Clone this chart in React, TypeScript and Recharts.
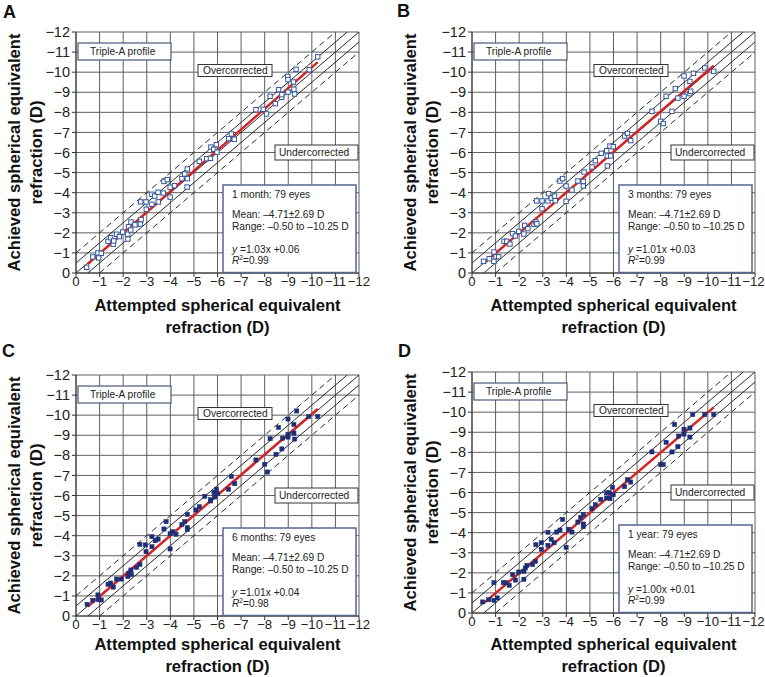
import React from "react";
import {
  ScatterChart,
  Scatter,
  XAxis,
  YAxis,
  CartesianGrid,
  ReferenceLine,
} from "recharts";

// attempted (x) vs achieved (y) spherical equivalent, dioptres
const oneMonth: [number, number][] = [
  [-0.45, -0.28], [-0.71, -0.8], [-0.96, -0.85], [-0.93, -1.0], [-1.07, -0.98],
  [-0.96, -0.75], [-1.36, -1.58], [-1.47, -1.76], [-1.58, -1.43], [-1.72, -1.93],
  [-1.84, -1.81], [-1.98, -2.04], [-2.19, -1.93], [-2.2, -1.69], [-2.23, -2.31],
  [-2.33, -2.54], [-2.32, -2.14], [-2.59, -2.42], [-2.73, -2.44], [-2.76, -2.66],
  [-2.74, -3.54], [-2.97, -3.54], [-2.98, -3.17], [-3.22, -3.42], [-3.22, -3.92],
  [-3.34, -3.83], [-3.48, -4.02], [-3.49, -3.54], [-3.7, -3.98], [-3.99, -3.78],
  [-3.73, -4.56], [-3.87, -4.65], [-3.99, -4.27], [-4.18, -4.35], [-4.49, -4.7],
  [-4.61, -4.93], [-4.72, -5.18], [-4.72, -4.7], [-4.71, -4.28], [-5.23, -5.56],
  [-5.54, -5.69], [-5.72, -6.27], [-5.7, -5.71], [-5.84, -6.16], [-5.95, -6.39],
  [-5.98, -6.02], [-6.47, -6.69], [-6.59, -6.92], [-6.71, -6.66], [-7.63, -8.13],
  [-7.94, -8.15], [-8.08, -7.92], [-8.23, -8.8], [-8.45, -8.43], [-8.59, -9.13],
  [-8.72, -8.75], [-8.73, -8.88], [-8.98, -9.79], [-8.99, -9.63], [-8.99, -9.01],
  [-9.22, -9.51], [-9.24, -9.15], [-9.27, -8.91], [-9.33, -10.14], [-9.89, -10.12],
  [-10.25, -10.76], [-2.5, -2.4], [-1.6, -1.6],
];

const threeMonths: [number, number][] = [
  [-0.49, -0.58], [-0.73, -0.71], [-0.93, -1.05], [-0.93, -0.58], [-1.02, -0.81],
  [-1.13, -0.81], [-1.36, -1.58], [-1.47, -1.58], [-1.61, -1.44], [-1.72, -1.96],
  [-1.84, -1.84], [-1.98, -2.07], [-2.23, -2.37], [-2.2, -1.94], [-2.37, -2.21],
  [-2.63, -2.42], [-2.71, -2.54], [-2.74, -3.59], [-2.97, -3.59], [-2.97, -3.2],
  [-3.22, -3.59], [-3.25, -3.95], [-3.36, -3.73], [-3.5, -3.83], [-3.53, -3.6],
  [-3.73, -4.58], [-3.84, -4.7], [-3.99, -4.33], [-3.99, -3.57], [-4.24, -4.13],
  [-4.49, -4.58], [-4.72, -4.56], [-4.75, -5.03], [-4.72, -4.33], [-5.09, -5.28],
  [-5.23, -5.59], [-5.48, -5.96], [-5.71, -6.09], [-5.74, -5.83], [-5.74, -5.33],
  [-5.85, -6.32], [-5.88, -5.83], [-5.99, -6.29], [-6.47, -6.82], [-6.59, -6.95],
  [-6.73, -6.59], [-7.63, -8.05], [-8.0, -7.55], [-8.11, -7.44], [-8.23, -8.8],
  [-8.48, -8.05], [-8.62, -9.18], [-8.73, -8.71], [-8.99, -9.81], [-8.99, -8.8],
  [-9.24, -9.54], [-9.24, -8.93], [-9.27, -9.05], [-9.39, -9.94], [-9.87, -10.21],
  [-10.25, -10.04], [-2.75, -2.45],
];

const sixMonths: [number, number][] = [
  [-0.47, -0.58], [-0.71, -0.78], [-0.93, -1.05], [-0.96, -0.81], [-1.07, -0.8],
  [-1.36, -1.58], [-1.47, -1.64], [-1.58, -1.44], [-1.72, -1.84], [-1.92, -1.84],
  [-2.2, -1.96], [-2.23, -2.12], [-2.33, -2.29], [-2.35, -2.07], [-2.57, -2.42],
  [-2.71, -2.57], [-2.71, -3.57], [-2.94, -3.54], [-2.97, -3.2], [-3.22, -3.45],
  [-3.22, -3.95], [-3.36, -3.75], [-3.48, -3.83], [-3.73, -4.33], [-3.82, -4.7],
  [-3.99, -3.34], [-3.99, -4.1], [-4.1, -4.2], [-4.24, -4.07], [-4.49, -4.56],
  [-4.61, -4.7], [-4.72, -5.06], [-4.72, -4.4], [-4.72, -4.3], [-5.09, -5.28],
  [-5.23, -5.44], [-5.46, -5.96], [-5.71, -5.79], [-5.71, -5.73], [-5.85, -6.16],
  [-5.88, -5.93], [-5.96, -6.31], [-5.99, -6.09], [-6.47, -6.31], [-6.59, -6.95],
  [-6.73, -6.59], [-7.63, -7.77], [-8.0, -7.55], [-8.11, -7.17], [-8.23, -8.83],
  [-8.48, -8.05], [-8.59, -9.39], [-8.73, -8.32], [-8.76, -8.85], [-8.99, -9.81],
  [-8.99, -9.05], [-8.99, -8.91], [-9.24, -9.54], [-9.27, -8.81], [-9.24, -9.11],
  [-9.36, -10.21], [-9.87, -9.93], [-10.25, -9.93],
];

const oneYear: [number, number][] = [
  [-0.45, -0.55], [-0.71, -0.66], [-0.93, -1.51], [-0.93, -0.63], [-1.07, -0.75],
  [-1.33, -1.51], [-1.44, -1.51], [-1.58, -1.38], [-1.72, -1.91], [-1.84, -1.64],
  [-1.98, -2.04], [-2.2, -2.07], [-2.2, -1.68], [-2.26, -2.24], [-2.33, -2.37],
  [-2.57, -2.41], [-2.69, -2.57], [-2.71, -3.4], [-2.94, -3.5], [-2.94, -3.17],
  [-3.22, -3.37], [-3.22, -4.02], [-3.36, -3.67], [-3.48, -3.5], [-3.59, -4.03],
  [-3.73, -4.13], [-3.84, -4.66], [-3.99, -3.27], [-4.1, -4.17], [-4.24, -4.03],
  [-4.49, -4.53], [-4.61, -4.76], [-4.72, -4.9], [-4.72, -4.43], [-4.72, -4.3],
  [-5.09, -5.2], [-5.23, -5.39], [-5.46, -5.66], [-5.71, -5.99], [-5.71, -5.73],
  [-5.82, -5.99], [-5.85, -5.69], [-5.96, -6.26], [-5.99, -5.89], [-6.47, -6.29],
  [-6.59, -6.64], [-6.73, -6.52], [-7.63, -8.02], [-8.0, -7.39], [-8.11, -7.39],
  [-8.23, -8.5], [-8.48, -8.02], [-8.59, -9.39], [-8.73, -8.28], [-8.76, -8.81],
  [-8.99, -9.15], [-8.99, -8.91], [-9.24, -9.21], [-9.24, -8.76], [-9.36, -9.88],
  [-9.87, -9.88], [-10.25, -9.88],
];

// regression line end points
const fitOneMonth: [number, number][] = [[-0.5, -0.45], [-10.25, -10.5]];
const fitThreeMonths: [number, number][] = [[-0.5, -0.48], [-10.25, -10.32]];
const fitSixMonths: [number, number][] = [[-0.5, -0.47], [-10.25, -10.31]];
const fitOneYear: [number, number][] = [[-0.5, -0.49], [-10.25, -10.24]];

const axisTicks = [0, -1, -2, -3, -4, -5, -6, -7, -8, -9, -10, -11, -12];
// y = x - d ; 0 is perfect, ±0.5 solid, ±1 dashed
const bandOffsets = [-1, -0.5, 0, 0.5, 1];

const FONT = '"Liberation Sans", Arial, Helvetica, sans-serif';
const CHART_W = 380;
const CHART_H = 337;
const PLOT_L = 76;
const PLOT_T = 32;

const fmtTick = (v: number) => (v === 0 ? "0" : "\u2212" + Math.abs(v));

const toPoints = (arr: [number, number][]) => arr.map(([x, y]) => ({ x, y }));

function bandSegment(d: number) {
  const x1 = Math.min(0, d);
  const x2 = Math.max(-12, -12 + d);
  return [
    { x: x1, y: x1 - d },
    { x: x2, y: x2 - d },
  ];
}

interface PanelProps {
  letter: string;
  left: number;
  top: number;
  letterX: number;
  letterY: number;
  titleDy: number;
  atEdge: boolean;
  data: [number, number][];
  fit: [number, number][];
  hollow: boolean;
  caption: string;
  equation: string;
  r2: string;
}

function Panel(p: PanelProps) {
  const pts = toPoints(p.data);
  const fit = toPoints(p.fit);
  const square = (props: any) => {
    const s = p.hollow ? 4.4 : 4.2;
    return (
      <rect
        x={props.cx - s / 2}
        y={props.cy - s / 2}
        width={s}
        height={s}
        fill={p.hollow ? "#ffffff" : "#1d2f78"}
        stroke={p.hollow ? "#34589c" : "#1d2f78"}
        strokeWidth={p.hollow ? 1 : 0.5}
      />
    );
  };

  // right-hand panels: last labels nudged in so they stay inside the picture
  const xTick = (props: any) => {
    const v = props.payload.value;
    let shift = 0;
    if (p.atEdge && v === -12) shift = -1.6;
    if (p.atEdge && v === -11) shift = -0.8;
    return (
      <text
        x={props.x + shift}
        y={props.y}
        dy="0.71em"
        textAnchor="middle"
        fontSize={13.2}
        fill="#222"
        fontFamily={FONT}
      >
        {fmtTick(v)}
      </text>
    );
  };

  const txt = { fontFamily: FONT, fontSize: 10.2, fill: "#222" };
  const ox = PLOT_L;
  const oy = PLOT_T;
  const ty = p.titleDy;

  return (
    <div
      style={{
        position: "absolute",
        left: p.left,
        top: p.top,
        width: CHART_W,
        height: CHART_H,
      }}
    >
      <ScatterChart
        width={CHART_W}
        height={CHART_H}
        margin={{ top: PLOT_T, right: 21, bottom: 0, left: 0 }}
      >
        <CartesianGrid stroke="#5e5e5e" strokeWidth={1} />
        <XAxis
          type="number"
          dataKey="x"
          domain={[-12, 0]}
          reversed
          allowDataOverflow
          ticks={axisTicks}
          interval={0}
          height={64}
          tickSize={4}
          tickMargin={0}
          tick={xTick}
          axisLine={{ stroke: "#333" }}
          tickLine={{ stroke: "#333" }}
        />
        <YAxis
          type="number"
          dataKey="y"
          domain={[-12, 0]}
          reversed
          allowDataOverflow
          ticks={axisTicks}
          interval={0}
          tickFormatter={fmtTick}
          width={PLOT_L}
          tickSize={4}
          tickMargin={2}
          tick={{ fontSize: 14.5, fill: "#222", fontFamily: FONT }}
          axisLine={{ stroke: "#333" }}
          tickLine={{ stroke: "#333" }}
        />
        {bandOffsets.map((d) => (
          <ReferenceLine
            key={`band-${d}`}
            segment={bandSegment(d)}
            stroke="#2a2a2a"
            strokeWidth={1}
            strokeDasharray={Math.abs(d) === 1 ? "6 4" : undefined}
          />
        ))}
        <ReferenceLine segment={fit} stroke="#d42424" strokeWidth={2.5} />
        <Scatter data={pts} shape={square} isAnimationActive={false} />
      </ScatterChart>

      <svg
        width={CHART_W}
        height={CHART_H}
        style={{ position: "absolute", left: 0, top: 0, overflow: "visible", pointerEvents: "none" }}
      >
        <text x={p.letterX} y={p.letterY} fontFamily={FONT} fontWeight="bold" fontSize={18} fill="#111">
          {p.letter}
        </text>

        {/* axis titles */}
        <g fontFamily={FONT} fontWeight="bold" fontSize={16.6} fill="#111" textAnchor="middle">
          <text x={217.5} y={311 + ty}>Attempted spherical equivalent</text>
          <text x={217.5} y={333 + ty}>refraction (D)</text>
          <text x={20} y={152.5} transform="rotate(-90 20 152.5)">Achieved spherical equivalent</text>
          <text x={42} y={152.5} transform="rotate(-90 42 152.5)">refraction (D)</text>
        </g>

        {/* Triple-A box */}
        <rect x={ox + 2} y={oy + 11} width={93} height={17} fill="#fff" stroke="#4a5878" strokeWidth={1.2} />
        <text x={ox + 14} y={oy + 23} {...txt}>Triple-A profile</text>

        {/* Overcorrected */}
        <rect x={ox + 122} y={oy + 32.5} width={74} height={12} fill="#fff" stroke="#333" strokeWidth={1} />
        <text x={ox + 127} y={oy + 42} {...txt}>Overcorrected</text>

        {/* Undercorrected */}
        <rect x={ox + 199} y={oy + 113} width={83} height={15} fill="#fff" stroke="#333" strokeWidth={1} />
        <text x={ox + 203} y={oy + 123.5} {...txt}>Undercorrected</text>

        {/* stats */}
        <rect x={ox + 147} y={oy + 153} width={133} height={87.5} fill="#fff" stroke="#56668e" strokeWidth={1.5} />
        <text x={ox + 156} y={oy + 166} {...txt}>{p.caption}</text>
        <text x={ox + 156} y={oy + 186} {...txt}>Mean: –4.71±2.69 D</text>
        <text x={ox + 156} y={oy + 198} {...txt}>Range: –0.50 to –10.25 D</text>
        <text x={ox + 156} y={oy + 221} {...txt}>
          <tspan fontStyle="italic">y</tspan> ={p.equation}
        </text>
        <text x={ox + 156} y={oy + 232} {...txt}>
          <tspan fontStyle="italic">R</tspan>
          <tspan fontSize={6.5} dy={-4}>2</tspan>
          <tspan dy={4}>={p.r2}</tspan>
        </text>
      </svg>
    </div>
  );
}

export default function App() {
  return (
    <div
      style={{
        position: "absolute",
        left: 0,
        top: 0,
        width: 765,
        height: 677,
        overflow: "hidden",
        background: "#fff",
      }}
    >
      <Panel letter="A" left={0} top={0} letterX={3} letterY={18} titleDy={0} atEdge={false}
        data={oneMonth} fit={fitOneMonth}
        hollow caption="1 month: 79 eyes" equation="1.03x +0.06" r2="0.99" />
      <Panel letter="B" left={396} top={0} letterX={1} letterY={17} titleDy={0} atEdge
        data={threeMonths} fit={fitThreeMonths}
        hollow caption="3 months: 79 eyes" equation="1.01x +0.03" r2="0.99" />
      <Panel letter="C" left={0} top={343} letterX={2} letterY={14} titleDy={-4} atEdge={false}
        data={sixMonths} fit={fitSixMonths}
        hollow={false} caption="6 months: 79 eyes" equation="1.01x +0.04" r2="0.98" />
      <Panel letter="D" left={396} top={340} letterX={2} letterY={17} titleDy={-1} atEdge
        data={oneYear} fit={fitOneYear}
        hollow={false} caption="1 year: 79 eyes" equation="1.00x +0.01" r2="0.99" />
    </div>
  );
}
